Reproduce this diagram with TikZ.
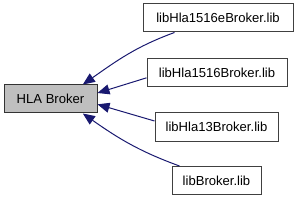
\documentclass[tikz,border=0pt]{standalone}
\usepackage{fontspec}
\setmainfont{Liberation Sans}
\usetikzlibrary{arrows.meta}
\definecolor{brkEdge}{HTML}{191970}
\definecolor{brkFill}{HTML}{BFBFBF}
\definecolor{brkLine}{HTML}{404040}

\begin{document}
\begin{tikzpicture}[x=0.75pt,y=0.75pt,
  libbox/.style={draw=brkLine,line width=0.75pt,fill=white,minimum height=21pt,inner sep=0pt,font=\fontsize{9.8}{11}\selectfont},
  edge/.style={brkEdge,line width=0.75pt,-{Triangle[length=9pt,width=7.5pt]}}]
\useasboundingbox (0,0) rectangle (296,200);
\node[libbox,fill=brkFill,draw=black!80,minimum width=69.75pt] (hla) at (50.5,101) {HLA Broker};
\node[libbox,minimum width=112.5pt] (lhe) at (218,182) {libHla1516eBroker.lib};
\node[libbox,minimum width=105pt] (lh16) at (217,127.5) {libHla1516Broker.lib};
\node[libbox,minimum width=92.25pt] (lh13) at (216.5,73) {libHla13Broker.lib};
\node[libbox,minimum width=66.75pt] (lb) at (216.5,19.5) {libBroker.lib};
\draw[edge] ([xshift=24pt]lhe.south west) to[out=200,in=35] ([xshift=-11pt]hla.north east);
\draw[edge] ([yshift=-4pt]lh16.west) -- ([yshift=4.5pt]hla.east);
\draw[edge] ([yshift=4.5pt]lh13.west) -- ([yshift=-4pt]hla.east);
\draw[edge] ([xshift=6pt]lb.north west) to[out=160,in=-35] ([xshift=-11pt]hla.south east);
\end{tikzpicture}
\end{document}
